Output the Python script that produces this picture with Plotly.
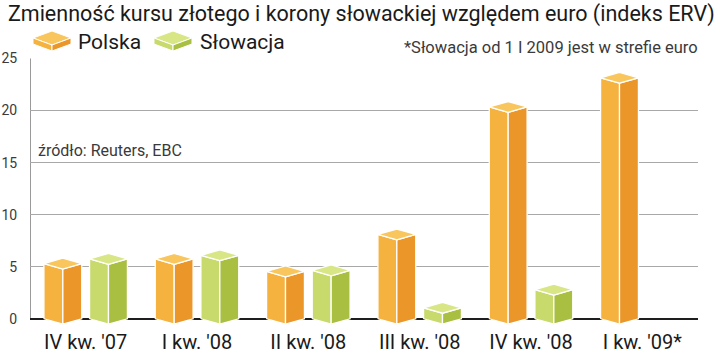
import plotly.graph_objects as go

# ---------------- data ----------------
categories = ["IV kw. '07", "I kw. '08", "II kw. '08", "III kw. '08", "IV kw. '08", "I kw. '09*"]
polska = [5.3, 5.75, 4.55, 8.1, 20.35, 23.15]
slowacja = [5.75, 6.1, 4.65, 1.05, 2.8, None]
y_ticks = [0, 5, 10, 15, 20, 25]
series_names = ["Polska", "Słowacja"]

# ---------------- style ----------------
FONT = "Roboto, sans-serif"
COLORS = {
    "Polska": {"left": "#F5B23E", "right": "#EA9629", "top": "#F8C65C"},
    "Słowacja": {"left": "#C8DA6C", "right": "#A9BF41", "top": "#D8E686"},
}
W, H = 720, 356
ML, MR, MT, MB = 30, 22, 58, 31
Y_MIN, Y_MAX = -0.6, 25.05
DEPTH = 0.52          # half-depth of top face in y units
OFFS = {"Polska": (-0.375, -0.205, -0.035), "Słowacja": (0.035, 0.205, 0.375)}

fig = go.Figure()


def add_poly(xs, ys, color):
    fig.add_trace(go.Scatter(
        x=xs + [xs[0]], y=ys + [ys[0]], mode="lines", fill="toself",
        fillcolor=color, line=dict(color="white", width=1.3),
        hoverinfo="skip", showlegend=False))


for name, vals in zip(series_names, [polska, slowacja]):
    c = COLORS[name]
    ol, of, orr = OFFS[name]
    for i, v in enumerate(vals):
        if v is None:
            continue
        xl, xf, xr = i + ol, i + of, i + orr
        d = DEPTH
        add_poly([xl, xl, xf, xf], [0, v, v - d, -d], c["left"])
        add_poly([xf, xf, xr, xr], [-d, v - d, v, 0], c["right"])
        add_poly([xl, xf, xr, xf], [v, v + d, v, v - d], c["top"])

# vertical axis line
fig.add_shape(type="line", x0=-0.5, x1=-0.5, y0=0, y1=25, xref="x", yref="y",
              line=dict(color="#9a9a9a", width=2), layer="below")

# ---------------- legend (drawn icons) ----------------
pw, ph = W - ML - MR, H - MT - MB


def px2paper(px, py):
    return (px - ML) / pw, (H - MB - py) / ph


def icon(x0, y0, name):
    c = COLORS[name]
    w, dh, h = 38, 7, 6
    L = (x0, y0 + dh); T = (x0 + w / 2, y0); R = (x0 + w, y0 + dh); F = (x0 + w / 2, y0 + 2 * dh)
    Lb = (L[0], L[1] + h); Fb = (F[0], F[1] + h); Rb = (R[0], R[1] + h)
    for pts, col in [([L, T, R, F], c["top"]), ([L, F, Fb, Lb], c["left"]), ([F, R, Rb, Fb], c["right"])]:
        path = "M " + " L ".join("%.4f,%.4f" % px2paper(*p) for p in pts) + " Z"
        fig.add_shape(type="path", path=path, xref="paper", yref="paper",
                      fillcolor=col, line=dict(color="white", width=1), layer="above")


icon(33, 31, "Polska")
icon(154, 31, "Słowacja")

fig.add_annotation(x=px2paper(76, 0)[0], y=px2paper(0, 42)[1], xref="paper", yref="paper",
                   text="Polska", showarrow=False, xanchor="left", yanchor="middle",
                   font=dict(family=FONT, size=21, color="#1a1a1a"))
fig.add_annotation(x=px2paper(198, 0)[0], y=px2paper(0, 42)[1], xref="paper", yref="paper",
                   text="Słowacja", showarrow=False, xanchor="left", yanchor="middle",
                   font=dict(family=FONT, size=21, color="#1a1a1a"))
fig.add_annotation(x=px2paper(700, 0)[0], y=px2paper(0, 48)[1], xref="paper", yref="paper",
                   text="*Słowacja od 1 I 2009 jest w strefie euro", showarrow=False,
                   xanchor="right", yanchor="middle",
                   font=dict(family=FONT, size=16.5, color="#3a3a3a"))
fig.add_annotation(x=px2paper(36, 0)[0], y=px2paper(0, 150)[1], xref="paper", yref="paper",
                   text="źródło: Reuters, EBC", showarrow=False, xanchor="left", yanchor="middle",
                   font=dict(family=FONT, size=16, color="#3a3a3a"))

fig.update_layout(
    width=W, height=H,
    margin=dict(l=ML, r=MR, t=MT, b=MB, pad=0, autoexpand=False),
    paper_bgcolor="white", plot_bgcolor="white",
    showlegend=False,
    title=dict(text="Zmienność kursu złotego i korony słowackiej względem euro (indeks ERV)",
               x=0.011, xanchor="left", y=0.963, yanchor="middle",
               font=dict(family=FONT, size=21.5, color="#1a1a1a")),
    xaxis=dict(range=[-0.5, 5.5], tickmode="array", tickvals=list(range(len(categories))),
               ticktext=categories, showgrid=False, zeroline=False, showline=False,
               automargin=False, ticks="", ticklabelstandoff=3,
               tickfont=dict(family=FONT, size=20, color="#1a1a1a"), fixedrange=True),
    yaxis=dict(range=[Y_MIN, Y_MAX], tickmode="array", tickvals=y_ticks,
               showgrid=True, gridcolor="#a8a8a8", gridwidth=1.2,
               zeroline=True, zerolinecolor="#1e1e1e", zerolinewidth=2.2,
               showline=False, automargin=False,
               ticks="outside", ticklen=9, tickcolor="rgba(0,0,0,0)",
               tickfont=dict(family=FONT, size=14, color="#3a3a3a"), fixedrange=True),
)

fig.write_html("out.html", config={"displayModeBar": False},
               post_script="document.body.style.margin='0';document.documentElement.style.margin='0';")
